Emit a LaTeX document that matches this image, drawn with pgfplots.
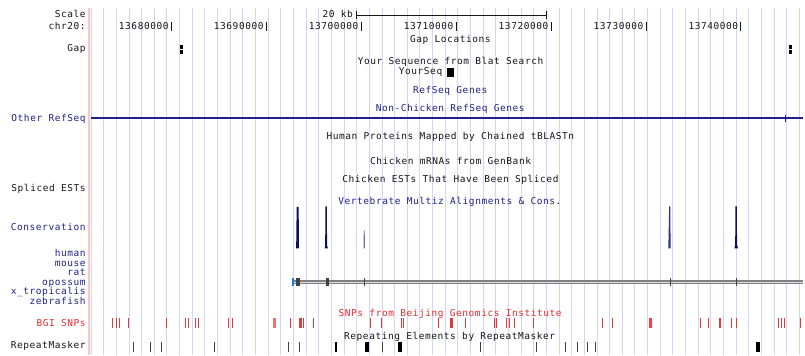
\documentclass[border=0pt]{standalone}
\usepackage{fontspec}
\usepackage{pgfplots}
\pgfplotsset{compat=1.18}
\newfontfamily\ucsc[LetterSpace=6]{DejaVu Sans Mono}
\definecolor{ucblue}{HTML}{20208A}
\definecolor{ucred}{HTML}{E22C2C}
\definecolor{snpred}{HTML}{E03A3A}
\definecolor{gridblue}{HTML}{D4D4F6}
\definecolor{pinkline}{HTML}{FFC4C4}
\definecolor{cons}{HTML}{0E0E68}
\definecolor{txt}{HTML}{161616}
\begin{document}
\begin{tikzpicture}[
  lab/.style={anchor=mid east, inner sep=0pt, yshift=-0.7bp, text=txt, font=\ucsc\fontsize{9.5bp}{10bp}\selectfont},
  ttl/.style={anchor=mid, inner sep=0pt, yshift=-0.7bp, text=txt, font=\ucsc\fontsize{9.5bp}{10bp}\selectfont}]
\begin{axis}[scale only axis, width=805bp, height=356bp,
  xmin=0, xmax=805, ymin=0, ymax=356, y dir=reverse, hide axis, clip=false]
% background
\addplot[fill=white, draw=none] coordinates {(0,0) (805,0) (805,356) (0,356)};
% grid lines
\addplot[quiver={u=0,v=348}, draw=gridblue, line width=1bp] coordinates {
(91.32,8)(104.00,8)(116.68,8)(129.36,8)(142.04,8)(154.72,8)(167.40,8)(180.08,8)
(192.76,8)(205.44,8)(218.12,8)(230.80,8)(243.48,8)(256.16,8)(268.84,8)(281.52,8)
(294.20,8)(306.88,8)(319.56,8)(332.24,8)(344.92,8)(357.60,8)(370.28,8)(382.96,8)
(395.64,8)(408.32,8)(421.00,8)(433.68,8)(446.36,8)(459.04,8)(471.72,8)(484.40,8)
(497.08,8)(509.76,8)(522.44,8)(535.12,8)(547.80,8)(560.48,8)(573.16,8)(585.84,8)
(598.52,8)(611.20,8)(623.88,8)(636.56,8)(649.24,8)(661.92,8)(674.60,8)(687.28,8)
(699.96,8)(712.64,8)(725.32,8)(738.00,8)(750.68,8)(763.36,8)(776.04,8)(788.72,8)
(801.40,8)};
% pink separator
\addplot[quiver={u=0,v=348}, draw=pinkline, line width=1.6bp] coordinates {(89,8)};
% scale bar
\addplot[draw=txt, line width=0.9bp] coordinates {(357.7,15) (547.3,15)};
\addplot[quiver={u=0,v=8}, draw=txt, line width=0.9bp] coordinates {(357.7,11) (547.3,11)};
\node[lab] at (axis cs:354,15) {20 kb};
% chromosome ticks
\addplot[quiver={u=0,v=9}, draw=txt, line width=0.9bp] coordinates {
(171.7,22)(266.9,22)(362.0,22)(457.2,22)(552.4,22)(647.6,22)(742.7,22)};
\node[lab] at (axis cs:169.2,26.7) {13680000};
\node[lab] at (axis cs:264.4,26.7) {13690000};
\node[lab] at (axis cs:359.5,26.7) {13700000};
\node[lab] at (axis cs:454.7,26.7) {13710000};
\node[lab] at (axis cs:549.9,26.7) {13720000};
\node[lab] at (axis cs:645.1,26.7) {13730000};
\node[lab] at (axis cs:740.2,26.7) {13740000};
% left labels
\node[lab] at (axis cs:86,15) {Scale};
\node[lab] at (axis cs:86,26.7) {chr20:};
\node[lab] at (axis cs:86,49) {Gap};
\node[lab, text=ucblue] at (axis cs:86,118.5) {Other RefSeq};
\node[lab] at (axis cs:86,189) {Spliced ESTs};
\node[lab, text=ucblue] at (axis cs:86,228.3) {Conservation};
\node[lab, text=ucblue] at (axis cs:86,254.3) {human};
\node[lab, text=ucblue] at (axis cs:86,264) {mouse};
\node[lab, text=ucblue] at (axis cs:86,273.3) {rat};
\node[lab, text=ucblue] at (axis cs:86,283.3) {opossum};
\node[lab, text=ucblue] at (axis cs:86,292.7) {x\_tropicalis};
\node[lab, text=ucblue] at (axis cs:86,302.3) {zebrafish};
\node[lab, text=ucred] at (axis cs:86,324) {BGI SNPs};
\node[lab] at (axis cs:86,346.7) {RepeatMasker};
% track titles
\node[ttl] at (axis cs:451.5,39.3) {Gap Locations};
\node[ttl] at (axis cs:451.7,62.3) {Your Sequence from Blat Search};
\node[lab] at (axis cs:443.5,71.7) {YourSeq};
\node[ttl, text=ucblue] at (axis cs:451.3,90.7) {RefSeq Genes};
\node[ttl, text=ucblue] at (axis cs:451.3,109) {Non-Chicken RefSeq Genes};
\node[ttl] at (axis cs:451.5,137.3) {Human Proteins Mapped by Chained tBLASTn};
\node[ttl] at (axis cs:451.7,161.7) {Chicken mRNAs from GenBank};
\node[ttl] at (axis cs:451.5,180) {Chicken ESTs That Have Been Spliced};
\node[ttl, text=ucblue] at (axis cs:451,201.7) {Vertebrate Multiz Alignments \& Cons.};
\node[ttl, text=ucred] at (axis cs:451.3,314) {SNPs from Beijing Genomics Institute};
\node[ttl] at (axis cs:450.8,337.7) {Repeating Elements by RepeatMasker};
% gaps
\addplot[quiver={u=0,v=3.4}, draw=black, line width=3bp] coordinates {
(181.6,45.3)(181.6,50.3)(792.4,45.3)(792.4,50.3)};
% YourSeq block
\addplot[fill=black, draw=none] coordinates {(448.3,68.3) (455,68.3) (455,76.7) (448.3,76.7)};
% Other RefSeq
\addplot[draw=ucblue, line width=1.5bp] coordinates {(91.7,118.5) (805,118.5)};
\addplot[quiver={u=0,v=7}, draw=ucblue, line width=1.5bp] coordinates {(787.5,115)};
% conservation peaks
\addplot[fill=cons, draw=none] coordinates {(296.9,249)(299.7,249)(299.4,207.5)(297.4,207.5)};
\addplot[fill=cons, draw=none] coordinates {(325.4,249)(328.8,249)(327.9,246)(327.6,207)(326.2,207)(326.0,246)};
\addplot[fill=cons!60, draw=none] coordinates {(364.4,249)(365.8,249)(365.6,231)(364.7,231)};
\addplot[fill=cons!85, draw=none] coordinates {(670.0,249)(672.3,249)(671.9,207)(670.8,207)};
\addplot[fill=cons, draw=none] coordinates {(736.2,249)(739.8,249)(738.9,245)(738.6,207)(737.3,207)(737.0,245)};
% opossum alignment
\addplot[draw=black!50, line width=4bp] coordinates {(294,283) (805,283)};
\addplot[draw=black!12, line width=1.6bp] coordinates {(294,283) (805,283)};
\addplot[quiver={u=0,v=8}, draw=black!75, line width=4bp] coordinates {(298.6,279)};
\addplot[quiver={u=0,v=8}, draw=black!75, line width=2.6bp] coordinates {(328.3,279)};
\addplot[quiver={u=0,v=8}, draw=black!75, line width=1.4bp] coordinates {(365.7,279)(672.3,279)};
\addplot[quiver={u=0,v=8}, draw=black!75, line width=1.8bp] coordinates {(738.3,279)};
\addplot[quiver={u=0,v=8}, draw=cyan!70!blue, line width=1.6bp] coordinates {(293.6,279)};
% BGI SNPs
\addplot[quiver={u=0,v=10.7}, draw=snpred, line width=1bp] coordinates {
(113,318.3)(116.7,318.3)(120,318.3)(129,318.3)(167,318.3)(186,318.3)(188.5,318.3)
(196,318.3)(199,318.3)(229,318.3)(233.5,318.3)(291,318.3)(304.5,318.3)(314,318.3)
(371,318.3)(382.5,318.3)(402.5,318.3)(404.5,318.3)(440,318.3)(467,318.3)(496,318.3)
(498,318.3)(507.8,318.3)(510.4,318.3)(515.7,318.3)(535,318.3)(604,318.3)(614.5,318.3)
(702,318.3)(710.7,318.3)(733,318.3)(738,318.3)(780,318.3)(783.5,318.3)(786.5,318.3)
(802,318.3)};
\addplot[quiver={u=0,v=10.7}, draw=snpred, line width=2.2bp] coordinates {
(301.3,318.3)(452.7,318.3)(722,318.3)};
\addplot[quiver={u=0,v=10.7}, draw=snpred!70, line width=3bp] coordinates {(275,318.3)};
\addplot[quiver={u=0,v=10.7}, draw=snpred!110!black, line width=3bp] coordinates {(652.6,318.3)};
% RepeatMasker
\addplot[quiver={u=0,v=10}, draw=black!75, line width=1bp] coordinates {
(134,342.7)(151,342.7)(161.5,342.7)(215,342.7)(289,342.7)(300.5,342.7)(383,342.7)
(482,342.7)(538,342.7)(567,342.7)(579,342.7)(588.5,342.7)(597,342.7)};
\addplot[quiver={u=0,v=10}, draw=black, line width=2bp] coordinates {(337,342.7)};
\addplot[quiver={u=0,v=10}, draw=black, line width=4bp] coordinates {(368,342.7)(401,342.7)(760,342.7)};
\end{axis}
\end{tikzpicture}
\end{document}
